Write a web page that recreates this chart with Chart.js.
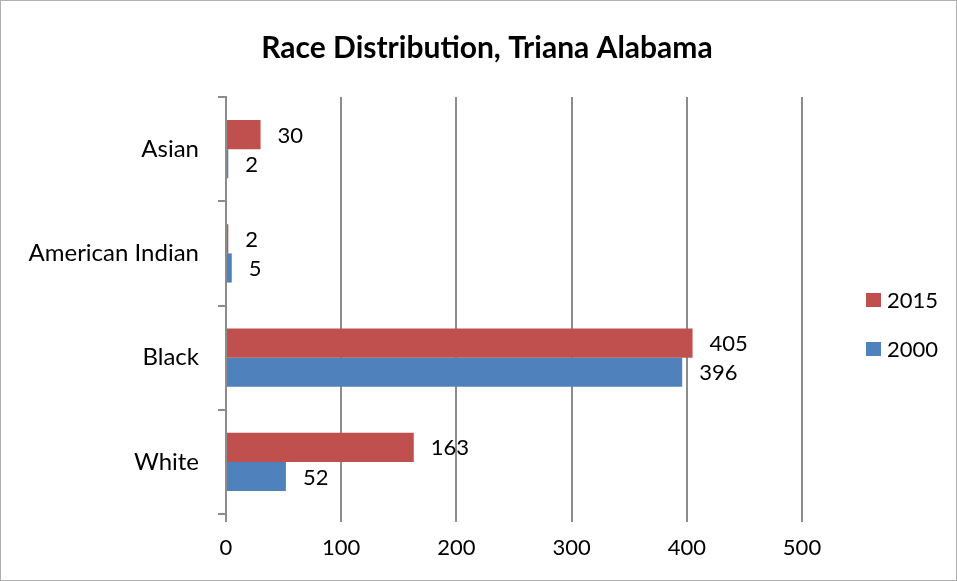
<!DOCTYPE html>
<html>
<head>
<meta charset="utf-8">
<script src="https://cdn.jsdelivr.net/npm/chart.js@4/dist/chart.umd.min.js"></script>
<style>
  html, body { margin: 0; padding: 0; background: #fff; }
  #wrap { width: 957px; height: 581px; position: relative; }
</style>
</head>
<body>
<div id="wrap"><canvas id="raceChart"></canvas></div>
<script>
// 資料
const categories = ["Asian", "American Indian", "Black", "White"];
const seriesNames = ["2015", "2000"];
const values2015 = [30, 2, 405, 163];
const values2000 = [2, 5, 396, 52];
const xMin = 0;
const xMax = 500;
const xStep = 100;
const titleText = "Race Distribution, Triana Alabama";

const FONT = "Lato, 'Noto Sans', sans-serif";
const colors = ["#C0504D", "#4F81BD"];
const gridColor = "#8c8c8c";

// 背景、外框與標題
const frame = {
  id: "frame",
  beforeDraw(chart) {
    const ctx = chart.ctx;
    ctx.save();
    ctx.fillStyle = "#fff";
    ctx.fillRect(0, 0, chart.width, chart.height);
    ctx.strokeStyle = "#b0b0b0";
    ctx.lineWidth = 1;
    ctx.strokeRect(0.5, 0.5, chart.width - 1, chart.height - 1);
    ctx.font = "bold 30px " + FONT;
    ctx.fillStyle = "#000";
    ctx.textAlign = "center";
    ctx.textBaseline = "middle";
    ctx.fillText(titleText, 487, 48);
    ctx.restore();
  }
};

// 數值標籤
const barLabels = {
  id: "barLabels",
  afterDatasetsDraw(chart) {
    const ctx = chart.ctx;
    ctx.save();
    ctx.font = "22px " + FONT;
    ctx.fillStyle = "#000";
    ctx.textAlign = "left";
    ctx.textBaseline = "middle";
    chart.data.datasets.forEach((ds, i) => {
      chart.getDatasetMeta(i).data.forEach((bar, j) => {
        ctx.fillText(String(ds.data[j]), bar.x + 17, bar.y + 1);
      });
    });
    ctx.restore();
  }
};

// 右側圖例
const sideLegend = {
  id: "sideLegend",
  afterDraw(chart) {
    const ctx = chart.ctx;
    const x = chart.chartArea.right + 64;
    const y0 = 300;
    ctx.save();
    ctx.font = "22px " + FONT;
    ctx.textBaseline = "middle";
    chart.data.datasets.forEach((ds, i) => {
      const y = y0 + i * 49;
      ctx.fillStyle = ds.backgroundColor;
      ctx.fillRect(x, y - 7, 15, 14);
      ctx.fillStyle = "#000";
      ctx.fillText(ds.label, x + 21, y + 1);
    });
    ctx.restore();
  }
};

new Chart(document.getElementById("raceChart"), {
  type: "bar",
  data: {
    labels: categories,
    datasets: [
      { label: seriesNames[0], data: values2015, backgroundColor: colors[0] },
      { label: seriesNames[1], data: values2000, backgroundColor: colors[1] }
    ]
  },
  options: {
    indexAxis: "y",
    responsive: true,
    maintainAspectRatio: false,
    animation: false,
    categoryPercentage: 0.56,
    barPercentage: 1,
    layout: { padding: { left: 10, right: 155, top: 97, bottom: 17 } },
    plugins: {
      legend: { display: false },
      tooltip: { enabled: false },
      title: { display: false }
    },
    scales: {
      x: {
        min: xMin,
        max: xMax,
        ticks: { stepSize: xStep, color: "#000", font: { family: FONT, size: 22 }, padding: 13 },
        grid: { color: gridColor, lineWidth: 2, tickLength: 8, drawTicks: true },
        border: { display: false },
        afterFit(scale) { scale.height = 50; }
      },
      y: {
        ticks: { color: "#000", font: { family: FONT, size: 24 }, padding: 19 },
        grid: { offset: true, drawOnChartArea: false, drawTicks: true, tickLength: 8, color: gridColor, lineWidth: 2 },
        border: { display: true, color: gridColor, width: 2 },
        afterFit(scale) { scale.width = 216; }
      }
    }
  },
  plugins: [frame, barLabels, sideLegend]
});
</script>
</body>
</html>
